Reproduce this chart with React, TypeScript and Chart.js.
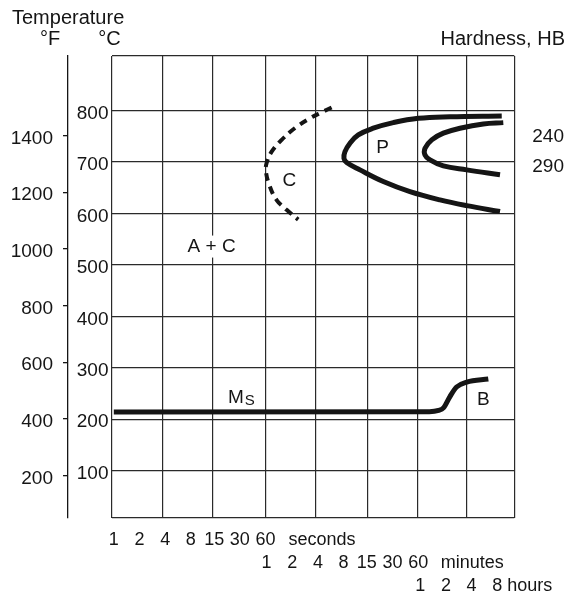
import React, { useEffect, useRef } from 'react';
import { Chart, registerables } from 'chart.js';

Chart.register(...registerables);

const FONT = "'Liberation Sans', Arial, Helvetica, sans-serif";
const INK = '#151515';
const GRID = '#2a2a2a';

// ---- axes ----
const TIME_MIN_S = 0.94;
const TIME_MAX_S = 49400;
const GRID_SECONDS = [0.94, 3.7, 14.2, 60, 231, 937, 3600, 13700, 49400];

const C_MIN = 8;
const C_MAX = 906;
const C_TICKS = [100, 200, 300, 400, 500, 600, 700, 800];

const F_MIN = 50;
const F_MAX = 1681;
const F_TICKS = [200, 400, 600, 800, 1000, 1200, 1400];

const SECOND_LABELS = [1, 2, 4, 8, 15, 30, 60];
const MINUTE_LABELS = [1, 2, 4, 8, 15, 30, 60];
const HOUR_LABELS = [1, 2, 4, 8];

// ---- curves: time (s), temperature (°C) ----
const NOSE_T = [357, 285, 199, 133, 92.7, 70.8, 61.8, 60.7, 67.6, 81, 106, 145];
const NOSE_C = [806, 798, 785, 766, 743, 720, 698, 681, 652, 626, 607, 588];

const P_START_T = [35200, 8710, 3707, 1887, 1099, 733, 586, 512, 498, 536, 767, 1439, 2958, 6653, 13680, 33600];
const P_START_C = [789.5, 788, 785, 776.5, 765.6, 752.6, 736.4, 720, 707, 699, 684.6, 662, 642.4, 626.3, 615.2, 603.6];

const P_FINISH_T = [36700, 21400, 11400, 7280, 5320, 4440, 4440, 5080, 7280, 13680, 33600];
const P_FINISH_C = [776.5, 774, 765.6, 756, 743, 726.7, 713.7, 704, 692.3, 684.6, 675];

const MS_T = [1, 5000, 6400, 7300, 8700, 10400, 13700, 24500];
const MS_C = [214, 214.5, 217, 222, 244, 262.5, 272, 278];

// ---- annotations ----
const REGION_TEXT = ['A + C', 'C', 'P', 'B'];
const REGION_T = [14.0, 113.8, 1416, 21400];
const REGION_C = [535.6, 663.8, 726.7, 237.8];

const MS_LABEL_T = 21.8;
const MS_LABEL_C = 232;

const HARDNESS_LABELS = ['240', '290'];
const HARDNESS_C = [749, 691];

const pts = (t: number[], c: number[]) => t.map((v, i) => ({ x: v, y: c[i] }));

const textPlugin = {
  id: 'ttt-texts',
  beforeDatasetsDraw(chart: any) {
    const ctx = chart.ctx;
    const xs = chart.scales.x;
    const ys = chart.scales.yC;
    ctx.save();
    ctx.font = `19px ${FONT}`;
    ctx.textAlign = 'center';
    ctx.textBaseline = 'middle';
    REGION_TEXT.forEach((s, i) => {
      const px = xs.getPixelForValue(REGION_T[i]);
      const py = ys.getPixelForValue(REGION_C[i]);
      const w = ctx.measureText(s).width;
      ctx.fillStyle = '#ffffff';
      ctx.fillRect(px - w / 2 - 1, py - 11, w + 2, 22);
      ctx.fillStyle = INK;
      ctx.fillText(s, px, py);
    });
    // Ms label
    const mx = xs.getPixelForValue(MS_LABEL_T);
    const my = ys.getPixelForValue(MS_LABEL_C);
    ctx.textAlign = 'left';
    ctx.textBaseline = 'alphabetic';
    ctx.fillText('M', mx, my);
    const mw = ctx.measureText('M').width;
    ctx.font = `15px ${FONT}`;
    ctx.fillText('S', mx + mw + 1, my + 2.3);
    ctx.restore();
  },
  afterDraw(chart: any) {
    const ctx = chart.ctx;
    const xs = chart.scales.x;
    const ys = chart.scales.yC;
    const area = chart.chartArea;
    ctx.save();
    ctx.fillStyle = INK;
    ctx.font = `20px ${FONT}`;
    ctx.textAlign = 'left';
    ctx.textBaseline = 'alphabetic';
    ctx.fillText('Temperature', 12, 23.5);
    ctx.fillText('°F', 40, 44.5);
    ctx.fillText('°C', 98.3, 44.5);
    ctx.textAlign = 'right';
    ctx.fillText('Hardness, HB', 565, 45);
    ctx.font = `19px ${FONT}`;
    ctx.textAlign = 'left';
    ctx.textBaseline = 'middle';
    HARDNESS_LABELS.forEach((s, i) => {
      ctx.fillText(s, area.right + 18, ys.getPixelForValue(HARDNESS_C[i]));
    });

    // time labels (three rows)
    ctx.font = `18px ${FONT}`;
    const rows = [
      { vals: SECOND_LABELS, mult: 1, unit: 'seconds', dy: 22, shift: 0, gap: 13 },
      { vals: MINUTE_LABELS, mult: 60, unit: 'minutes', dy: 45, shift: 1, gap: 12.5 },
      { vals: HOUR_LABELS, mult: 3600, unit: 'hours', dy: 68, shift: 3, gap: 5 },
    ];
    rows.forEach((r) => {
      const y = area.bottom + r.dy;
      ctx.textAlign = 'center';
      let lastRight = 0;
      r.vals.forEach((v) => {
        const px = xs.getPixelForValue(v * r.mult) + r.shift;
        const s = String(v);
        ctx.fillText(s, px, y);
        lastRight = px + ctx.measureText(s).width / 2;
      });
      ctx.textAlign = 'left';
      ctx.fillText(r.unit, lastRight + r.gap, y);
    });
    ctx.restore();
  },
};

export default function App() {
  const ref = useRef<HTMLCanvasElement | null>(null);

  useEffect(() => {
    if (!ref.current) return;
    const base = {
      showLine: true,
      pointRadius: 0,
      pointHoverRadius: 0,
      fill: false,
      borderColor: INK,
      xAxisID: 'x',
      yAxisID: 'yC',
    };
    const chart = new Chart(ref.current, {
      type: 'scatter',
      data: {
        datasets: [
          { ...base, label: 'C start', data: pts(NOSE_T, NOSE_C), borderWidth: 4, borderDash: [8, 6], tension: 0.4 },
          { ...base, label: 'P start', data: pts(P_START_T, P_START_C), borderWidth: 5, tension: 0.4 },
          { ...base, label: 'P finish', data: pts(P_FINISH_T, P_FINISH_C), borderWidth: 5, tension: 0.4 },
          { ...base, label: 'Ms / B', data: pts(MS_T, MS_C), borderWidth: 5, cubicInterpolationMode: 'monotone' },
        ],
      } as any,
      options: {
        responsive: false,
        animation: false,
        devicePixelRatio: 1,
        layout: { padding: { left: 0, right: 61.7, top: 56, bottom: 76 } },
        plugins: { legend: { display: false }, tooltip: { enabled: false }, title: { display: false } },
        events: [],
        scales: {
          x: {
            type: 'logarithmic',
            position: 'bottom',
            min: TIME_MIN_S,
            max: TIME_MAX_S,
            afterBuildTicks: (s: any) => {
              s.ticks = GRID_SECONDS.map((v) => ({ value: v }));
            },
            ticks: { display: false },
            grid: { color: GRID, lineWidth: 1.2, drawTicks: false },
            border: { display: false },
            afterFit: (s: any) => {
              s.height = 0;
            },
          },
          yC: {
            type: 'linear',
            position: 'left',
            weight: 0,
            min: C_MIN,
            max: C_MAX,
            afterBuildTicks: (s: any) => {
              s.ticks = [C_MIN, ...C_TICKS, C_MAX].map((v) => ({ value: v }));
            },
            ticks: {
              callback: (v: any) => (C_TICKS.includes(Number(v)) ? String(v) : ''),
              font: { family: FONT, size: 19 },
              color: INK,
              padding: 3,
              labelOffset: 3,
            },
            grid: { color: GRID, lineWidth: 1.2, drawTicks: false },
            border: { display: false },
            afterFit: (s: any) => {
              s.width = 43.5;
            },
          },
          yF: {
            type: 'linear',
            position: 'left',
            weight: 1,
            min: F_MIN,
            max: F_MAX,
            afterBuildTicks: (s: any) => {
              s.ticks = F_TICKS.map((v) => ({ value: v }));
            },
            ticks: {
              callback: (v: any) => String(v),
              font: { family: FONT, size: 19 },
              color: INK,
              padding: 10,
              labelOffset: 3,
            },
            grid: { drawOnChartArea: false, drawTicks: true, tickLength: 5, color: INK, lineWidth: 1.3 },
            border: { display: true, color: INK, width: 1.3 },
            afterFit: (s: any) => {
              s.width = 68;
            },
          },
        },
      } as any,
      plugins: [textPlugin],
    });
    return () => chart.destroy();
  }, []);

  return (
    <div style={{ position: 'fixed', left: 0, top: 0, width: 576, height: 594, background: '#fff' }}>
      <canvas ref={ref} width={576} height={594} style={{ display: 'block', width: 576, height: 594 }} />
    </div>
  );
}
